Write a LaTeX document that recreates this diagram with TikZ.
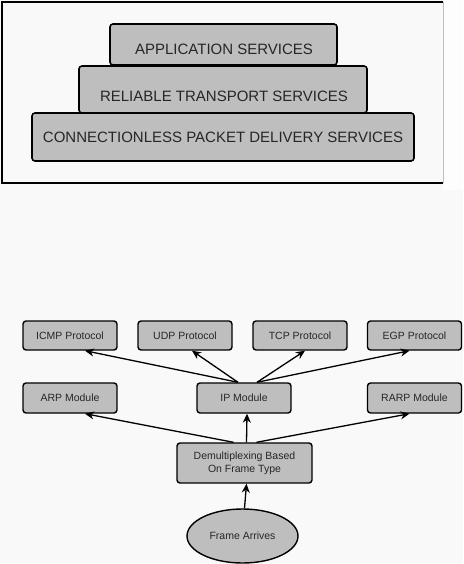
\documentclass[tikz,border=0pt]{standalone}
\usepackage{fontspec}
\setmainfont{Liberation Sans}
\usetikzlibrary{arrows.meta,shapes.geometric}
\definecolor{bgc}{HTML}{F9F9F9}
\definecolor{boxfill}{HTML}{BEBEBE}
\definecolor{txt}{HTML}{262626}
\tikzset{
  layer/.style={draw=black, line width=1.6pt, fill=boxfill, rounded corners=3pt, inner sep=0pt, text=txt, font=\fontsize{15}{17}\selectfont},
  layertext/.style={text=txt, font=\fontsize{15}{17}\selectfont},
  mod/.style={draw=black, line width=1.4pt, fill=boxfill, rounded corners=3pt, inner sep=0pt, text=txt, font=\fontsize{10.5}{13}\selectfont, align=center},
  arr/.style={line width=1.3pt, -{Stealth[length=9pt,width=8pt]}}
}
\begin{document}
\begin{tikzpicture}[x=1pt,y=-1pt]
\useasboundingbox (0,0) rectangle (463,564);
\fill[bgc] (0,0) rectangle (463,564);
% frame
\fill[white!60!bgc] (443,0) rectangle (463,190);
\fill[bgc] (2,2) rectangle (443,183);
\draw[line width=1.2pt] (443,2) -- (2,2) -- (2,183) -- (443,183);
\draw[gray!50, line width=0.6pt] (443,2) -- (443,183);
% layers
\node[layer, minimum width=227pt, minimum height=41pt] (app) at (223.5,44.5) {};
\node[layer, minimum width=288pt, minimum height=47pt] (rel) at (223,89.5) {};
\node[layer, minimum width=382pt, minimum height=48pt] (con) at (223,137) {};
\node[layertext] (appt) at (224,49) {APPLICATION SERVICES};
\node[layertext] (relt) at (224,96) {RELIABLE TRANSPORT SERVICES};
\node[layertext] (cont) at (223,137) {CONNECTIONLESS PACKET DELIVERY SERVICES};
% modules
\node[mod, minimum width=94pt, minimum height=29pt] (icmp) at (70,335.5) {ICMP Protocol};
\node[mod, minimum width=94pt, minimum height=29pt] (udp) at (185,335.5) {UDP Protocol};
\node[mod, minimum width=94pt, minimum height=29pt] (tcp) at (300,335.5) {TCP Protocol};
\node[mod, minimum width=94pt, minimum height=29pt] (egp) at (414.5,335.5) {EGP Protocol};
\node[mod, minimum width=94pt, minimum height=30pt] (arp) at (70,398) {ARP Module};
\node[mod, minimum width=94pt, minimum height=30pt] (ip) at (244,398) {IP Module};
\node[mod, minimum width=94pt, minimum height=30pt] (rarp) at (414.5,398) {RARP Module};
\node[mod, minimum width=135pt, minimum height=40pt] (demux) at (244.5,463) {Demultiplexing Based\\On Frame Type};
\node[ellipse, draw=black, line width=1.4pt, fill=boxfill, minimum width=111pt, minimum height=54pt, inner sep=0pt, text=txt, font=\fontsize{10.5}{13}\selectfont] (frame) at (242.5,536) {Frame Arrives};
% arrows
\draw[arr] ([xshift=-6pt]ip.north) -- ([xshift=15pt]icmp.south);
\draw[arr] ([xshift=-6pt]ip.north) -- ([xshift=7pt]udp.south);
\draw[arr] ([xshift=13pt]ip.north) -- ([xshift=5pt]tcp.south);
\draw[arr] ([xshift=13pt]ip.north) -- ([xshift=-5pt]egp.south);
\draw[arr] ([xshift=-11pt]demux.north) -- ([xshift=15pt]arp.south);
\draw[arr] ([xshift=2pt]demux.north) -- ([xshift=3pt]ip.south);
\draw[arr] ([xshift=12pt]demux.north) -- ([xshift=-5pt]rarp.south);
\draw[arr] ([xshift=2pt]frame.north) -- ([xshift=2pt]demux.south);
\end{tikzpicture}
\end{document}
